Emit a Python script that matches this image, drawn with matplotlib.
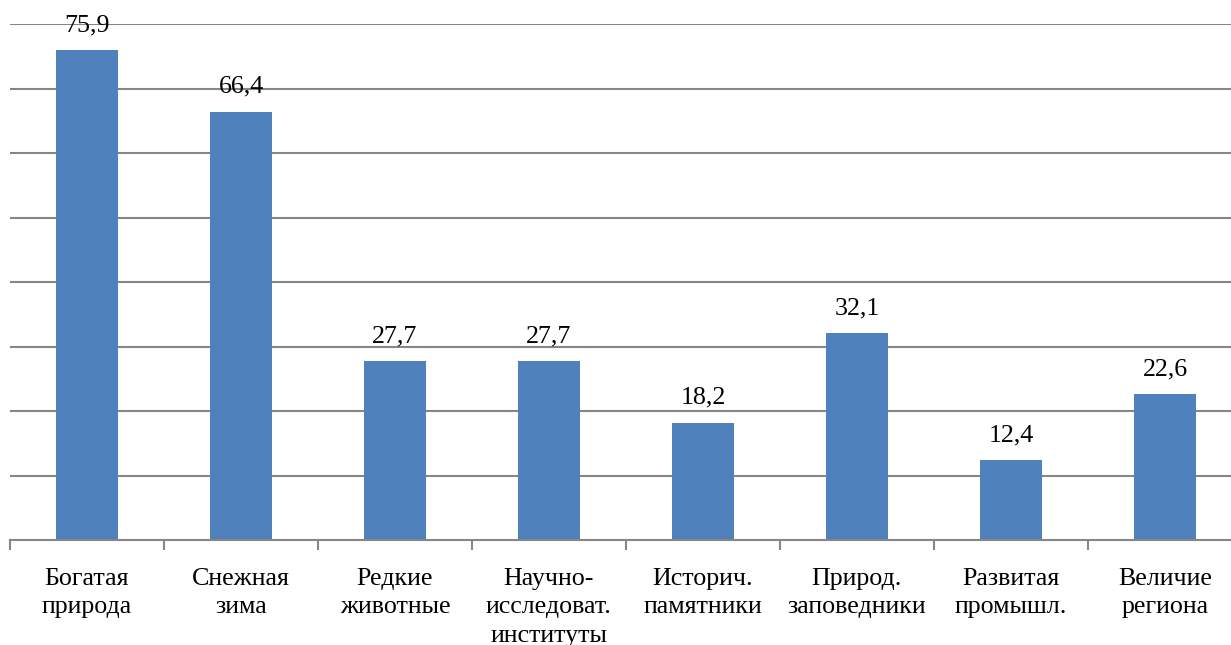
import matplotlib
matplotlib.use("Agg")
import matplotlib.pyplot as plt
import numpy as np

categories = [
    "Богатая\nприрода",
    "Снежная\nзима",
    "Редкие\nживотные",
    "Научно-\nисследоват.\nинституты",
    "Историч.\nпамятники",
    "Природ.\nзаповедники",
    "Развитая\nпромышл.",
    "Величие\nрегиона",
]
values = [75.9, 66.4, 27.7, 27.7, 18.2, 32.1, 12.4, 22.6]
value_labels = ["75,9", "66,4", "27,7", "27,7", "18,2", "32,1", "12,4", "22,6"]

plt.rcParams["font.family"] = ["Liberation Serif", "DejaVu Serif"]
FS = 18.7
GRID = "#868686"
BAR = "#4F81BD"

W, H = 1231, 645
fig = plt.figure(figsize=(W / 100, H / 100), dpi=100)
# plot area runs slightly past the right edge of the canvas
ax = fig.add_axes([10 / W, 1 - 540 / H, 1232 / W, (540 - 24) / H])

x = np.arange(len(categories))
bars = ax.bar(x, values, width=0.4, color=BAR, edgecolor="none", zorder=3)

ax.set_xlim(-0.5, len(categories) - 0.5)
ax.set_ylim(0, 80)
ax.set_yticks(np.arange(10, 81, 10))
ax.yaxis.grid(True, color=GRID, linewidth=1.5, zorder=0)
ax.tick_params(axis="y", left=False, labelleft=False)

# category boundaries carry the tick marks, labels sit at the centres
ax.set_xticks(np.arange(-0.5, len(categories), 1.0))
ax.set_xticklabels([])
ax.set_xticks(x, minor=True)
ax.set_xticklabels(categories, minor=True, fontsize=FS, linespacing=1.38,
                   va="top", ha="center")
ax.tick_params(axis="x", which="major", direction="out", length=7,
               width=1.5, color=GRID)
ax.tick_params(axis="x", which="minor", length=0, pad=20)

for side in ("top", "right", "left"):
    ax.spines[side].set_visible(False)
ax.spines["bottom"].set_color(GRID)
ax.spines["bottom"].set_linewidth(1.5)
ax.spines["bottom"].set_zorder(4)

for b, v, lab in zip(bars, values, value_labels):
    ax.annotate(lab, (b.get_x() + b.get_width() / 2, v),
                xytext=(0, 10), textcoords="offset points",
                ha="center", va="bottom", fontsize=FS)

fig.savefig("out.png", dpi=100)
